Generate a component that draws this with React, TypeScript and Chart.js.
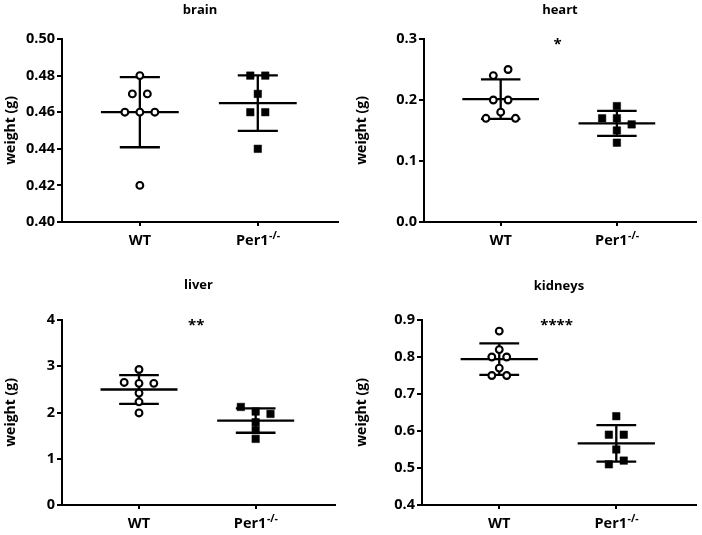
import React, { useEffect, useRef } from 'react';
import { Chart, registerables } from 'chart.js';

Chart.register(...registerables);

// ---------- data ----------
const organs = ['brain', 'heart', 'liver', 'kidneys'];
const groupLabels = ['WT', 'Per1'];
const groupSuperscripts = ['', '-/-'];
const yAxisTitle = 'weight (g)';

const brainWT = [0.48, 0.47, 0.47, 0.46, 0.46, 0.46, 0.42];
const brainPer1 = [0.48, 0.48, 0.47, 0.46, 0.46, 0.44];
const heartWT = [0.24, 0.25, 0.2, 0.2, 0.17, 0.18, 0.17];
const heartPer1 = [0.19, 0.17, 0.17, 0.16, 0.15, 0.13];
const liverWT = [2.93, 2.65, 2.63, 2.63, 2.42, 2.23, 1.99];
const liverPer1 = [2.12, 2.02, 1.97, 1.79, 1.62, 1.43];
const kidneysWT = [0.87, 0.82, 0.8, 0.8, 0.77, 0.75, 0.75];
const kidneysPer1 = [0.64, 0.59, 0.59, 0.55, 0.51, 0.52];

const brainTicks = [0.4, 0.42, 0.44, 0.46, 0.48, 0.5];
const heartTicks = [0.0, 0.1, 0.2, 0.3];
const liverTicks = [0, 1, 2, 3, 4];
const kidneysTicks = [0.4, 0.5, 0.6, 0.7, 0.8, 0.9];
const tickDecimals = [2, 1, 0, 1];

const significance = ['', '*', '**', '****'];

const wtSeries = [brainWT, heartWT, liverWT, kidneysWT];
const per1Series = [brainPer1, heartPer1, liverPer1, kidneysPer1];
const tickSets = [brainTicks, heartTicks, liverTicks, kidneysTicks];

// ---------- layout / style ----------
const PANELS = [
  { x: 0, y: 0, w: 351, h: 267, left: 62, right: 338, top: 39, bottom: 222, titleY: 10 },
  { x: 351, y: 0, w: 351, h: 267, left: 73, right: 348, top: 39, bottom: 222, titleY: 10 },
  { x: 0, y: 267, w: 351, h: 268, left: 62, right: 335, top: 53, bottom: 238, titleY: 18 },
  { x: 351, y: 267, w: 351, h: 268, left: 71, right: 347, top: 53, bottom: 238, titleY: 19 },
];
const X_MIN = -0.66;
const X_MAX = 1.68;
const JITTER_STEP = 0.127; // one marker width in x units
const GROUP_TOL = 0.038; // fraction of y range treated as overlapping
const MEAN_HALF = 0.33;
const CAP_HALF = 0.17;
const SIG_X = 0.49;
const FONT = '"Open Sans", "DejaVu Sans", sans-serif';

function jitter(values: number[], tol: number): number[] {
  const order = values.map((_, i) => i).sort((a, b) => values[b] - values[a] || a - b);
  const groups: number[][] = [];
  let cur: number[] = [];
  let start = 0;
  for (const i of order) {
    if (cur.length && start - values[i] <= tol + 1e-9) cur.push(i);
    else {
      if (cur.length) groups.push(cur);
      cur = [i];
      start = values[i];
    }
  }
  if (cur.length) groups.push(cur);
  const off = new Array(values.length).fill(0);
  for (const g of groups) {
    g.sort((a, b) => a - b);
    const n = g.length;
    g.forEach((i, k) => {
      off[i] = (k - (n - 1) / 2) * JITTER_STEP;
    });
  }
  return off;
}

function meanSd(values: number[]) {
  const m = values.reduce((a, b) => a + b, 0) / values.length;
  const v = values.reduce((a, b) => a + (b - m) * (b - m), 0) / (values.length - 1);
  return { m, sd: Math.sqrt(v) };
}

function summaryLine(values: number[], cx: number) {
  const { m, sd } = meanSd(values);
  return [
    { x: cx - MEAN_HALF, y: m },
    { x: cx + MEAN_HALF, y: m },
    { x: cx, y: null },
    { x: cx - CAP_HALF, y: m + sd },
    { x: cx + CAP_HALF, y: m + sd },
    { x: cx, y: null },
    { x: cx - CAP_HALF, y: m - sd },
    { x: cx + CAP_HALF, y: m - sd },
    { x: cx, y: null },
    { x: cx, y: m + sd },
    { x: cx, y: m - sd },
  ];
}

function Panel({ index }: { index: number }) {
  const ref = useRef<HTMLCanvasElement | null>(null);
  const p = PANELS[index];

  useEffect(() => {
    if (!ref.current) return;
    const wt = wtSeries[index];
    const ko = per1Series[index];
    const ticks = tickSets[index];
    const yMin = ticks[0];
    const yMax = ticks[ticks.length - 1];
    const tol = GROUP_TOL * (yMax - yMin);
    const wtOff = jitter(wt, tol);
    const koOff = jitter(ko, tol);

    const textPlugin = {
      id: 'panelText',
      afterDraw(chart: any) {
        const ctx = chart.ctx;
        const area = chart.chartArea;
        const xs = chart.scales.x;
        const ys = chart.scales.y;
        ctx.save();
        ctx.fillStyle = '#000';
        // title
        ctx.font = `bold 13px ${FONT}`;
        ctx.textAlign = 'center';
        ctx.textBaseline = 'middle';
        ctx.fillText(organs[index], (area.left + area.right) / 2, p.titleY);
        // category labels
        groupLabels.forEach((lab, i) => {
          const px = xs.getPixelForValue(i);
          const ly = area.bottom + 19;
          ctx.font = `bold 14.5px ${FONT}`;
          const wb = ctx.measureText(lab).width;
          const sup = groupSuperscripts[i];
          ctx.font = `bold 10.5px ${FONT}`;
          const ws = sup ? ctx.measureText(sup).width : 0;
          const x0 = px - (wb + ws) / 2;
          ctx.textAlign = 'left';
          ctx.font = `bold 14.5px ${FONT}`;
          ctx.fillText(lab, x0, ly);
          if (sup) {
            ctx.font = `bold 10.5px ${FONT}`;
            ctx.fillText(sup, x0 + wb + 0.5, ly - 5);
          }
        });
        // significance
        const sig = significance[index];
        if (sig) {
          ctx.font = `bold 15px ${FONT}`;
          ctx.textAlign = 'center';
          ctx.textBaseline = 'top';
          ctx.fillText(sig, xs.getPixelForValue(SIG_X), ys.getPixelForValue(yMax) - 2);
        }
        ctx.restore();
      },
    };

    const lineStyle = {
      type: 'line' as const,
      borderColor: '#000',
      borderWidth: 2.3,
      pointRadius: 0,
      spanGaps: false,
      fill: false,
      order: 2,
    };

    const chart = new Chart(ref.current, {
      type: 'scatter',
      data: {
        datasets: [
          { ...lineStyle, data: summaryLine(wt, 0) } as any,
          { ...lineStyle, data: summaryLine(ko, 1) } as any,
          {
            type: 'scatter',
            data: wt.map((v, i) => ({ x: 0 + wtOff[i], y: v })),
            pointStyle: 'circle',
            pointRadius: 3.4,
            pointBorderWidth: 2.1,
            pointBorderColor: '#000',
            pointBackgroundColor: '#fff',
            order: 0,
            clip: false,
          } as any,
          {
            type: 'scatter',
            data: ko.map((v, i) => ({ x: 1 + koOff[i], y: v })),
            pointStyle: 'rect',
            pointRadius: 5.3,
            pointBorderWidth: 0.5,
            pointBorderColor: '#000',
            pointBackgroundColor: '#000',
            order: 0,
            clip: false,
          } as any,
        ],
      },
      options: {
        responsive: false,
        animation: false,
        events: [],
        layout: { padding: { left: 0, right: p.w - p.right, top: p.top, bottom: 0 } },
        plugins: { legend: { display: false }, tooltip: { enabled: false }, title: { display: false } },
        scales: {
          x: {
            type: 'linear',
            min: X_MIN,
            max: X_MAX,
            afterBuildTicks: (s: any) => {
              s.ticks = groupLabels.map((_, i) => ({ value: i }));
            },
            afterFit: (s: any) => {
              s.height = p.h - p.bottom;
            },
            ticks: { callback: () => '', font: { size: 1 } },
            grid: { drawOnChartArea: false, drawTicks: true, tickLength: 4, color: '#000', lineWidth: 2 },
            border: { display: true, color: '#000', width: 2 },
          },
          y: {
            type: 'linear',
            min: yMin,
            max: yMax,
            afterBuildTicks: (s: any) => {
              s.ticks = ticks.map((v) => ({ value: v }));
            },
            afterFit: (s: any) => {
              s.width = p.left;
            },
            ticks: {
              color: '#000',
              padding: 2,
              font: { family: FONT, size: 14.5, weight: 'bold' },
              callback: (v: any) => Number(v).toFixed(tickDecimals[index]),
            },
            title: {
              display: true,
              text: yAxisTitle,
              color: '#000',
              font: { family: FONT, size: 14, weight: 'bold' },
              padding: { top: 3, bottom: 0 },
            },
            grid: { drawOnChartArea: false, drawTicks: true, tickLength: 5, color: '#000', lineWidth: 2 },
            border: { display: true, color: '#000', width: 2 },
          },
        },
      } as any,
      plugins: [textPlugin],
    });
    return () => chart.destroy();
  }, [index]);

  return (
    <canvas
      ref={ref}
      width={p.w}
      height={p.h}
      style={{ position: 'absolute', left: p.x, top: p.y, width: p.w, height: p.h }}
    />
  );
}

export default function App() {
  return (
    <div style={{ position: 'absolute', left: 0, top: 0, width: 702, height: 535, background: '#fff' }}>
      {organs.map((_, i) => (
        <Panel key={i} index={i} />
      ))}
    </div>
  );
}
